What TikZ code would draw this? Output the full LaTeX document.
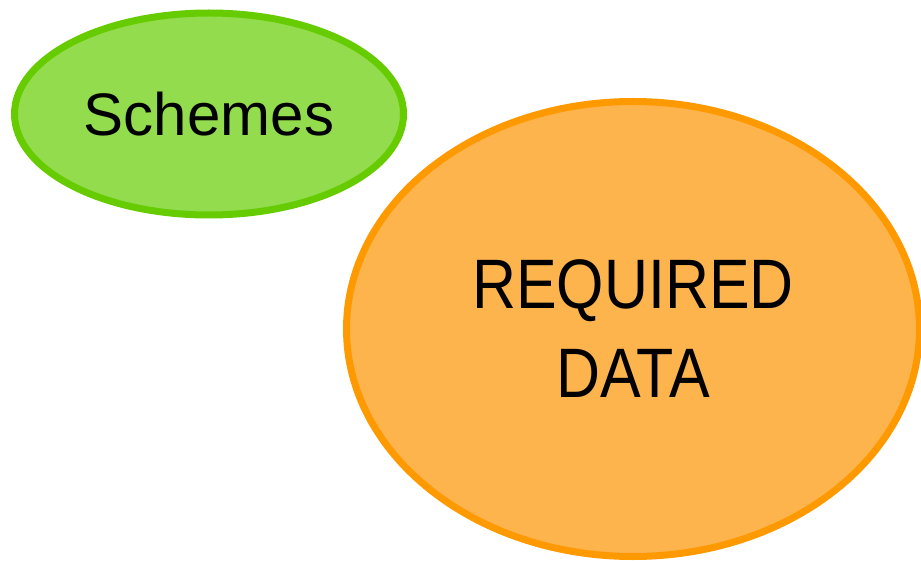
\documentclass[tikz,border=0pt]{standalone}
\usepackage{fontspec}
\setmainfont{Liberation Sans}
\newfontfamily\narrowfont[FakeStretch=0.87]{Liberation Sans}
\usepackage{tikz}
\usetikzlibrary{shapes.geometric,positioning}

\definecolor{schemefill}{RGB}{146,220,78}
\definecolor{schemeline}{RGB}{102,204,0}
\definecolor{datafill}{RGB}{253,180,77}
\definecolor{dataline}{RGB}{255,153,0}

\begin{document}
\begin{tikzpicture}[x=1pt, y=-1pt, line width=7pt]
    \useasboundingbox (0,0) rectangle (921,561);
    \node[draw=schemeline, fill=schemefill, ellipse, inner sep=0pt, minimum width=389pt, minimum height=202pt, font=\fontsize{60}{72}\selectfont] (schemes) at (209,114) {Schemes};
    \node[draw=dataline, fill=datafill, ellipse, inner sep=0pt, minimum width=573pt, minimum height=455pt, align=center, font=\narrowfont\fontsize{70}{89}\selectfont] (data) at (633,329) {REQUIRED\\DATA};
\end{tikzpicture}
\end{document}
